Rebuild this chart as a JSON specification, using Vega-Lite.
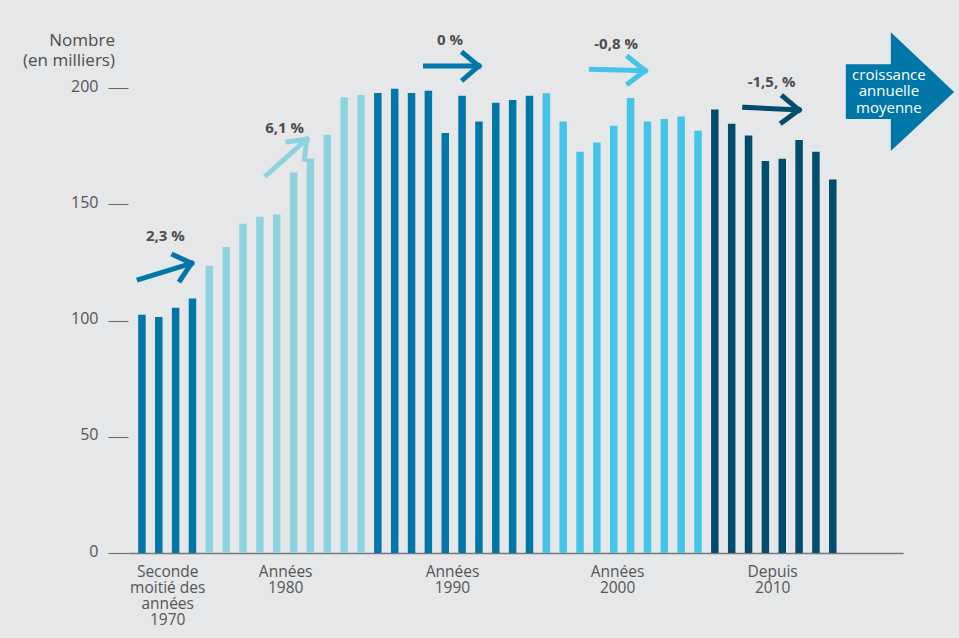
{
  "$schema": "https://vega.github.io/schema/vega-lite/v6.json",
  "width": 775,
  "height": 465,
  "autosize": "none",
  "padding": {"left": 128, "top": 88, "right": 56, "bottom": 85},
  "background": "#e6e7e8",
  "config": {
    "view": {"stroke": null},
    "font": "Open Sans",
    "text": {"font": "Open Sans"}
  },
  "layer": [
    {
      "data": {"values": [
        {"year": 1976, "value": 102.5, "group": "1970"},
        {"year": 1977, "value": 101.5, "group": "1970"},
        {"year": 1978, "value": 105.5, "group": "1970"},
        {"year": 1979, "value": 109.5, "group": "1970"},
        {"year": 1980, "value": 123.6, "group": "1980"},
        {"year": 1981, "value": 131.6, "group": "1980"},
        {"year": 1982, "value": 141.6, "group": "1980"},
        {"year": 1983, "value": 144.6, "group": "1980"},
        {"year": 1984, "value": 145.6, "group": "1980"},
        {"year": 1985, "value": 163.7, "group": "1980"},
        {"year": 1986, "value": 169.7, "group": "1980"},
        {"year": 1987, "value": 179.9, "group": "1980"},
        {"year": 1988, "value": 196.0, "group": "1980"},
        {"year": 1989, "value": 197.0, "group": "1980"},
        {"year": 1990, "value": 197.8, "group": "1990"},
        {"year": 1991, "value": 199.7, "group": "1990"},
        {"year": 1992, "value": 197.8, "group": "1990"},
        {"year": 1993, "value": 198.8, "group": "1990"},
        {"year": 1994, "value": 180.6, "group": "1990"},
        {"year": 1995, "value": 196.7, "group": "1990"},
        {"year": 1996, "value": 185.6, "group": "1990"},
        {"year": 1997, "value": 193.7, "group": "1990"},
        {"year": 1998, "value": 194.8, "group": "1990"},
        {"year": 1999, "value": 196.7, "group": "1990"},
        {"year": 2000, "value": 197.7, "group": "2000"},
        {"year": 2001, "value": 185.6, "group": "2000"},
        {"year": 2002, "value": 172.6, "group": "2000"},
        {"year": 2003, "value": 176.6, "group": "2000"},
        {"year": 2004, "value": 183.8, "group": "2000"},
        {"year": 2005, "value": 195.7, "group": "2000"},
        {"year": 2006, "value": 185.6, "group": "2000"},
        {"year": 2007, "value": 186.7, "group": "2000"},
        {"year": 2008, "value": 187.7, "group": "2000"},
        {"year": 2009, "value": 181.6, "group": "2000"},
        {"year": 2010, "value": 190.7, "group": "2010"},
        {"year": 2011, "value": 184.6, "group": "2010"},
        {"year": 2012, "value": 179.6, "group": "2010"},
        {"year": 2013, "value": 168.6, "group": "2010"},
        {"year": 2014, "value": 169.6, "group": "2010"},
        {"year": 2015, "value": 177.6, "group": "2010"},
        {"year": 2016, "value": 172.6, "group": "2010"},
        {"year": 2017, "value": 160.6, "group": "2010"}
      ]},
      "mark": {"type": "bar", "size": 7.5},
      "encoding": {
        "x": {
          "field": "year", "type": "quantitative",
          "scale": {"domain": [1975.47, 2020.87], "nice": false, "zero": false},
          "axis": {
            "title": null, "grid": false, "ticks": false,
            "domainColor": "#777777", "domainWidth": 1.3,
            "values": [1977.5, 1984.5, 1994.4, 2004.2, 2013.4],
            "labelExpr": "datum.value < 1980 ? ['Seconde', 'moitié des', 'années', '1970'] : datum.value < 1990 ? ['Années', '1980'] : datum.value < 2000 ? ['Années', '1990'] : datum.value < 2010 ? ['Années', '2000'] : ['Depuis', '2010']",
            "labelAlign": "center", "labelBaseline": "top", "labelPadding": 11,
            "labelFontSize": 15.5, "labelColor": "#555555", "labelLineHeight": 16,
            "labelOverlap": false, "labelFlush": false, "labelBound": false
          }
        },
        "y": {
          "field": "value", "type": "quantitative",
          "scale": {"domain": [0, 200], "nice": false},
          "axis": {
            "title": null,
            "grid": false, "domain": false,
            "values": [0, 50, 100, 150, 200],
            "tickSize": 20, "tickColor": "#666666", "tickWidth": 1,
            "labelPadding": 10, "labelFontSize": 16, "labelColor": "#555555",
            "labelOffset": -2
          }
        },
        "color": {
          "field": "group", "type": "nominal",
          "scale": {"domain": ["1970", "1980", "1990", "2000", "2010"], "range": ["#0077a8", "#8dd3df", "#0077a8", "#45c4ea", "#004d6e"]},
          "legend": null
        }
      }
    },
    {
      "data": {"values": [
        {"group": "1970", "x": 1975.84, "y": 117.72, "x2": 1978.94, "y2": 124.6},
        {"group": "1970", "x": 1977.89, "y": 128.17, "x2": 1978.94, "y2": 124.6},
        {"group": "1970", "x": 1978.28, "y": 117.42, "x2": 1978.94, "y2": 124.6},
        {"group": "1980", "x": 1983.4, "y": 162.58, "x2": 1985.78, "y2": 177.94},
        {"group": "1980", "x": 1984.67, "y": 176.9, "x2": 1985.78, "y2": 177.94},
        {"group": "1980", "x": 1985.65, "y": 169.33, "x2": 1985.78, "y2": 177.94},
        {"group": "1990", "x": 1992.83, "y": 209.46, "x2": 1995.99, "y2": 209.46},
        {"group": "1990", "x": 1995.08, "y": 214.92, "x2": 1995.99, "y2": 209.46},
        {"group": "1990", "x": 1995.08, "y": 203.74, "x2": 1995.99, "y2": 209.46},
        {"group": "2000", "x": 2002.67, "y": 208.04, "x2": 2005.86, "y2": 207.44},
        {"group": "2000", "x": 2004.88, "y": 213.2, "x2": 2005.86, "y2": 207.44},
        {"group": "2000", "x": 2004.88, "y": 202.02, "x2": 2005.86, "y2": 207.44},
        {"group": "2010", "x": 2011.77, "y": 191.7, "x2": 2014.99, "y2": 190.54},
        {"group": "2010", "x": 2014.06, "y": 196.26, "x2": 2014.99, "y2": 190.54},
        {"group": "2010", "x": 2014.0, "y": 185.25, "x2": 2014.99, "y2": 190.54}
      ]},
      "mark": {"type": "rule", "strokeWidth": 5, "strokeCap": "square"},
      "encoding": {
        "x": {"field": "x", "type": "quantitative", "title": null},
        "y": {"field": "y", "type": "quantitative", "title": null},
        "x2": {"field": "x2"},
        "y2": {"field": "y2"},
        "color": {"field": "group", "type": "nominal", "legend": null}
      }
    },
    {
      "data": {"values": [
        {"x": 1977.39, "y": 136.47, "label": "2,3 %"},
        {"x": 1984.47, "y": 182.67, "label": "6,1 %"},
        {"x": 1994.29, "y": 220.65, "label": "0 %"},
        {"x": 2004.14, "y": 218.92, "label": "-0,8 %"},
        {"x": 2013.37, "y": 202.71, "label": "-1,5, %"}
      ]},
      "mark": {"type": "text", "fontSize": 15, "fontWeight": "bold", "color": "#4d4d4d", "baseline": "middle", "align": "center"},
      "encoding": {
        "x": {"field": "x", "type": "quantitative", "title": null},
        "y": {"field": "y", "type": "quantitative", "title": null},
        "text": {"field": "label"}
      }
    },
    {
      "data": {"values": [{"x": 1974.4, "y": 220.2, "label": "Nombre\n(en milliers)"}]},
      "mark": {"type": "text", "fontSize": 17, "fontWeight": 500, "color": "#4d4d4d", "baseline": "middle", "align": "right", "lineBreak": "\n", "lineHeight": 19.5},
      "encoding": {
        "x": {"field": "x", "type": "quantitative", "title": null},
        "y": {"field": "y", "type": "quantitative", "title": null},
        "text": {"field": "label"}
      }
    },
    {
      "data": {"values": [{"x": 2020.7, "y": 198.28}]},
      "mark": {
        "type": "point", "filled": true, "opacity": 1, "color": "#0077a8", "size": 14400, "strokeWidth": 0,
        "shape": "M-0.822,-0.462 L-0.072,-0.462 L-0.072,-0.995 L0.983,0 L-0.072,0.983 L-0.072,0.45 L-0.822,0.45 Z"
      },
      "encoding": {
        "x": {"field": "x", "type": "quantitative", "title": null},
        "y": {"field": "y", "type": "quantitative", "title": null}
      }
    },
    {
      "data": {"values": [{"x": 2020.33, "y": 205.6, "label": "croissance\nannuelle\nmoyenne"}]},
      "mark": {"type": "text", "fontSize": 15, "color": "#ffffff", "baseline": "middle", "align": "center", "lineBreak": "\n", "lineHeight": 16.5},
      "encoding": {
        "x": {"field": "x", "type": "quantitative", "title": null},
        "y": {"field": "y", "type": "quantitative", "title": null},
        "text": {"field": "label"}
      }
    }
  ]
}
